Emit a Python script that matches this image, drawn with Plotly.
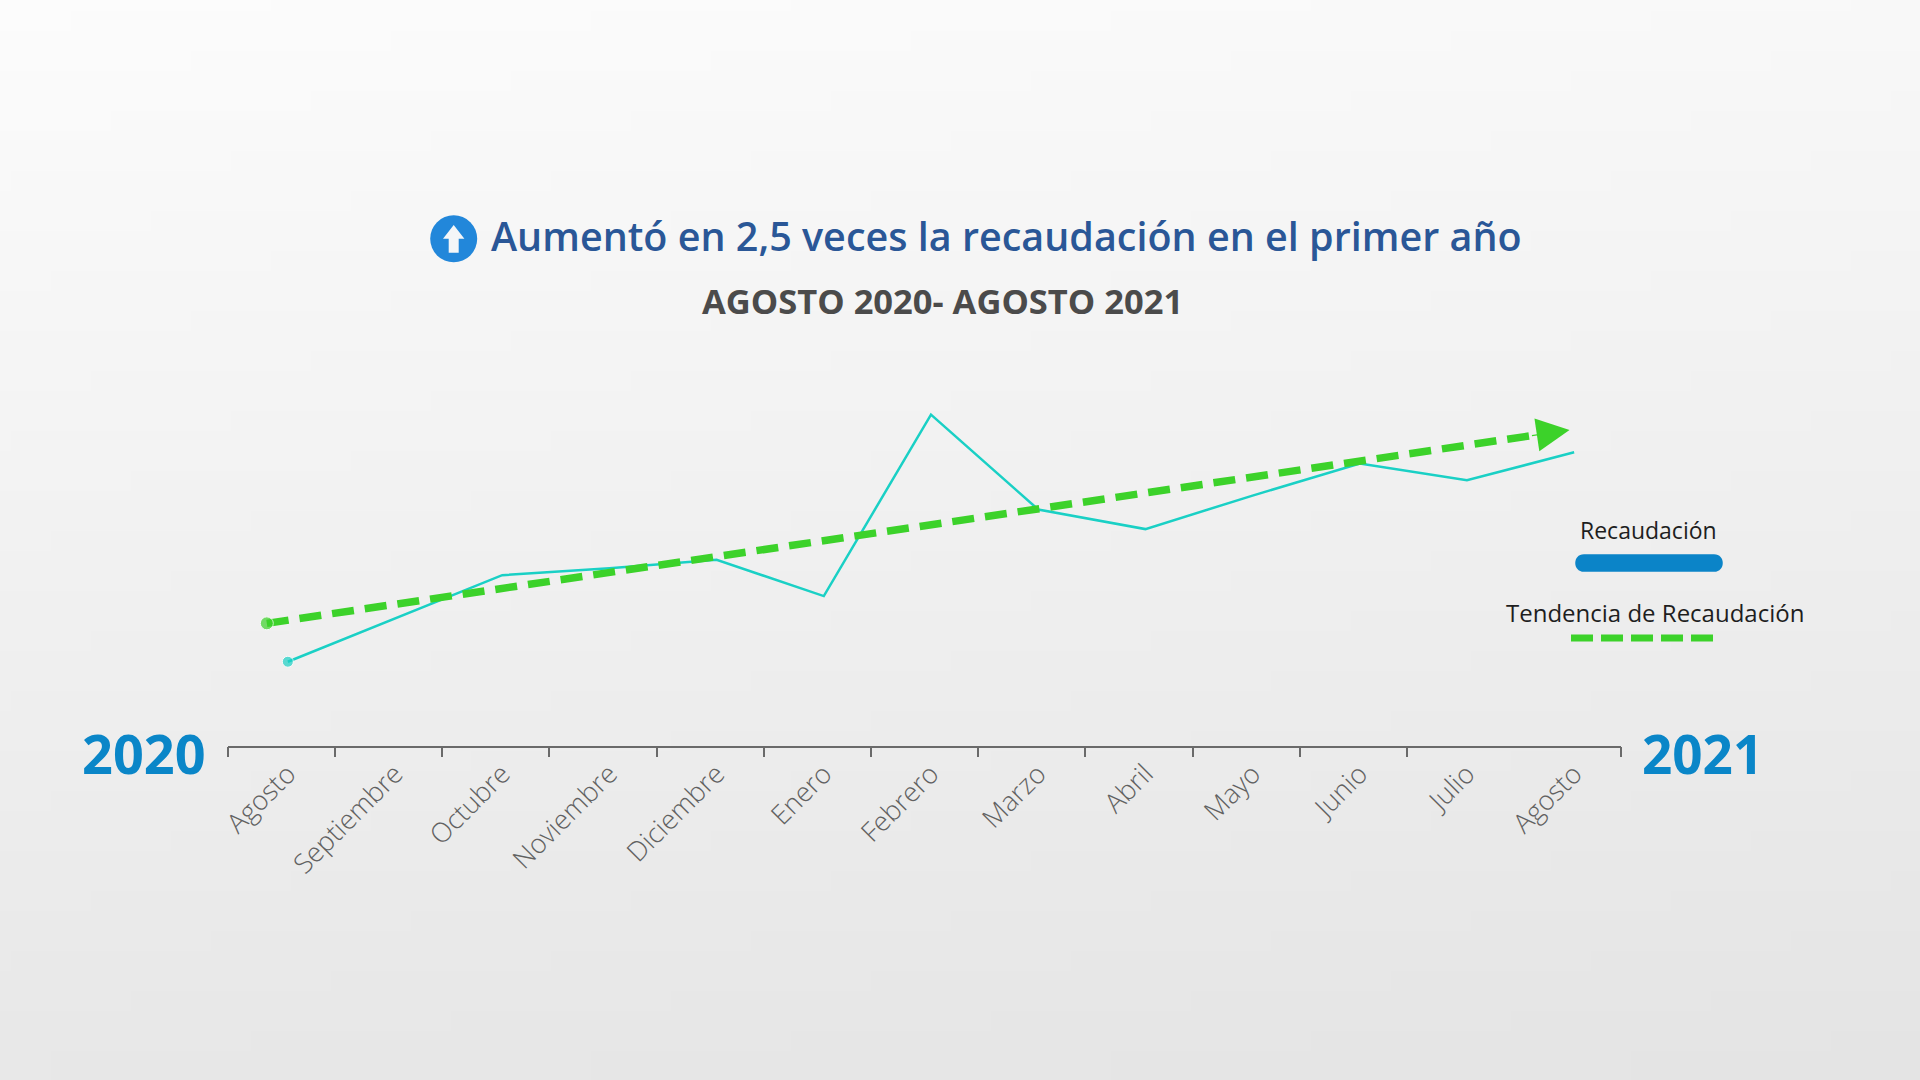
import base64
import struct
import zlib

import plotly.graph_objects as go

# ---------------- data ----------------
meses = ["Agosto", "Septiembre", "Octubre", "Noviembre", "Diciembre", "Enero",
         "Febrero", "Marzo", "Abril", "Mayo", "Junio", "Julio", "Agosto"]
recaudacion = [100, 131, 162, 167, 173, 147, 277, 209, 195, 219, 242, 230, 250]
tendencia_x = [-0.196, 11.957]
tendencia_y = [127.5, 266]
anio_inicio = "2020"
anio_fin = "2021"
titulo = "Aumentó en 2,5 veces la recaudación en el primer año"
subtitulo = "AGOSTO 2020- AGOSTO 2021"
leyenda = ["Recaudación", "Tendencia de Recaudación"]

# ---------------- style ----------------
W, H = 1920, 1080
FONT = "Open Sans"
CYAN = "#1AD0C5"
GREEN = "#3CD22A"
BLUE = "#0B84C8"
TITLE_BLUE = "#2A5797"
CAT_SHIFT = 0.06   # category centres sit slightly right of the middle between ticks


def px(x):
    return x / W


def py(y):
    return 1 - y / H


def gradient_png(w, h):
    raw = b""
    for j in range(h):
        row = b"\x00"
        for i in range(w):
            v = int(round(252 - 24 * (0.85 * j / (h - 1) + 0.15 * i / (w - 1))))
            row += bytes([v, v, v])
        raw += row

    def chunk(tag, data):
        c = struct.pack(">I", len(data)) + tag + data
        return c + struct.pack(">I", zlib.crc32(tag + data) & 0xFFFFFFFF)

    png = (b"\x89PNG\r\n\x1a\n"
           + chunk(b"IHDR", struct.pack(">IIBBBBB", w, h, 8, 2, 0, 0, 0))
           + chunk(b"IDAT", zlib.compress(raw))
           + chunk(b"IEND", b""))
    return "data:image/png;base64," + base64.b64encode(png).decode()


x_idx = list(range(len(meses)))

fig = go.Figure()

fig.add_trace(go.Scatter(
    x=x_idx, y=recaudacion, mode="lines+markers",
    line=dict(color=CYAN, width=2.5),
    marker=dict(color=CYAN, size=[11] + [0] * (len(meses) - 1)),
    showlegend=False, hoverinfo="skip",
))

fig.add_trace(go.Scatter(
    x=tendencia_x, y=tendencia_y, mode="lines+markers",
    line=dict(color=GREEN, width=7.5, dash="22px,11px", backoff=22),
    marker=dict(color=GREEN, size=[13, 0]),
    showlegend=False, hoverinfo="skip",
))

# arrow head at end of trend
t = 0.97
ax_ = tendencia_x[0] + t * (tendencia_x[1] - tendencia_x[0])
ay_ = tendencia_y[0] + t * (tendencia_y[1] - tendencia_y[0])

annotations = [
    dict(x=tendencia_x[1], y=tendencia_y[1], ax=ax_, ay=ay_, xref="x", yref="y",
         axref="x", ayref="y", showarrow=True, arrowhead=2, arrowsize=5.5,
         arrowwidth=1.2, arrowcolor=GREEN, text=""),
    dict(x=px(1006), y=py(236), xref="paper", yref="paper", text=titulo,
         showarrow=False, xanchor="center", yanchor="middle",
         font=dict(family=FONT, size=39.5, color=TITLE_BLUE, weight=600)),
    dict(x=px(942), y=py(300), xref="paper", yref="paper", text=subtitulo,
         showarrow=False, xanchor="center", yanchor="middle",
         font=dict(family=FONT, size=34.5, color="#4B4B4B", weight=700)),
    dict(x=px(144), y=py(753), xref="paper", yref="paper", text=anio_inicio,
         showarrow=False, xanchor="center", yanchor="middle",
         font=dict(family=FONT, size=54, color="#0A86C8", weight=700)),
    dict(x=px(1702), y=py(753), xref="paper", yref="paper", text=anio_fin,
         showarrow=False, xanchor="center", yanchor="middle",
         font=dict(family=FONT, size=53, color="#0A86C8", weight=700)),
    dict(x=px(1648), y=py(530), xref="paper", yref="paper", text=leyenda[0],
         showarrow=False, xanchor="center", yanchor="middle",
         font=dict(family=FONT, size=23, color="#1E1E1E")),
    dict(x=px(1655), y=py(613), xref="paper", yref="paper", text=leyenda[1],
         showarrow=False, xanchor="center", yanchor="middle",
         font=dict(family=FONT, size=24, color="#1E1E1E")),
]

shapes = [
    # legend bar (rounded)
    dict(type="path", xref="paper", yref="paper", xsizemode="pixel", ysizemode="pixel",
         xanchor=px(1649), yanchor=py(563),
         path="M -65,-8.8 H 65 C 76.7,-8.8 76.7,8.8 65,8.8 H -65 C -76.7,8.8 -76.7,-8.8 -65,-8.8 Z",
         fillcolor=BLUE, line=dict(width=0)),
    # legend dashed line
    dict(type="line", xref="paper", yref="paper", x0=px(1571), x1=px(1713),
         y0=py(638), y1=py(638), line=dict(color=GREEN, width=7, dash="22px,8px")),
    # title icon
    dict(type="circle", xref="paper", yref="paper", xsizemode="pixel", ysizemode="pixel",
         xanchor=px(453.7), yanchor=py(238.8), x0=-23.5, x1=23.5, y0=-23.5, y1=23.5,
         fillcolor="#2287DA", line=dict(width=0)),
    dict(type="path", xref="paper", yref="paper", xsizemode="pixel", ysizemode="pixel",
         xanchor=px(453.7), yanchor=py(238.8),
         path="M 0,13.8 L 10.7,0 L 5,0 L 5,-13.9 L -5,-13.9 L -5,0 L -10.7,0 Z",
         fillcolor="#F4F6F8", line=dict(width=0)),
]

n = len(meses)
boundaries = [i - 0.5 - CAT_SHIFT for i in range(n + 1) if i != n - 1]

fig.update_layout(
    width=W, height=H, autosize=False,
    margin=dict(l=0, r=0, t=0, b=0, pad=0, autoexpand=False),
    paper_bgcolor="#EFEFEF", plot_bgcolor="rgba(0,0,0,0)",
    images=[dict(source=gradient_png(96, 54), xref="paper", yref="paper",
                 x=0, y=1, sizex=1, sizey=1, sizing="stretch",
                 xanchor="left", yanchor="top", layer="below")],
    xaxis=dict(
        domain=[px(227.8), px(1621.3)],
        range=[-0.5 - CAT_SHIFT, n - 0.5 - CAT_SHIFT],
        automargin=False,
        showgrid=False, zeroline=False, showline=True, linecolor="#6A6A6A", linewidth=1.5,
        tickmode="array", tickvals=x_idx, ticktext=meses, ticks="",
        tickangle=-45, ticklabelstandoff=0,
        tickfont=dict(family=FONT, size=27, color="#616161", weight=300),
        minor=dict(tickmode="array", tickvals=boundaries, ticks="outside",
                   ticklen=10, tickwidth=1.5, tickcolor="#6A6A6A", showgrid=False),
        fixedrange=True,
    ),
    yaxis=dict(
        domain=[py(745.5), py(382.5)], range=[40, 300],
        automargin=False, visible=False, fixedrange=True,
    ),
    annotations=annotations,
    shapes=shapes,
    showlegend=False,
)

fig.write_html(
    "out.html",
    config={"displayModeBar": False},
    post_script="document.body.style.margin='0';document.body.style.overflow='hidden';",
)
